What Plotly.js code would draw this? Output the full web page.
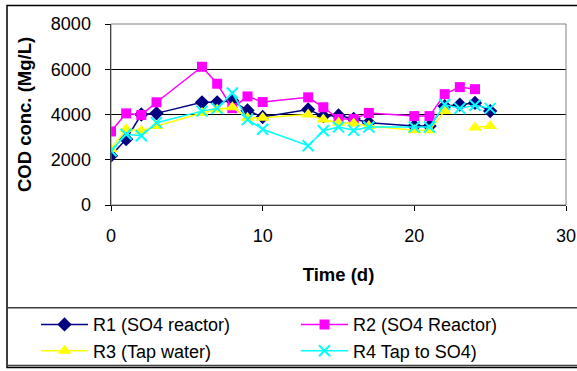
<!DOCTYPE html>
<html><head><meta charset="utf-8">
<script src="https://cdn.plot.ly/plotly-3.0.1.min.js"></script>
<style>html,body{margin:0;padding:0;background:#fff}#chart{width:577px;height:371px}</style>
</head><body><div id="chart"></div>
<script>
const days = [0,1,2,3,6,7,8,9,10,13,14,15,16,17,20,21,22,23,24,25];
const r1 = [2180,2910,4000,4050,4540,4540,4610,4180,3890,4220,3930,3960,3810,3640,3490,3490,4370,4440,4510,4150];
const r2 = [3250,4050,3980,4540,6110,5360,4280,4800,4550,4760,4320,3800,3800,4070,3930,3930,4900,5210,5120,null];
const r3 = [2480,3350,3280,3490,4070,4220,4320,3860,3860,4000,3780,3640,3600,3490,3300,3300,4150,null,3420,3490];
const r4 = [2400,3130,3060,3640,4150,4270,4950,3780,3350,2620,3280,3450,3300,3450,3450,3450,4440,4270,4410,4270];
const names = ['R1 (SO4 reactor)','R2 (SO4 Reactor)','R3 (Tap water)','R4 Tap to SO4)'];
const xTitle = 'Time (d)';
const yTitle = 'COD conc. (Mg/L)';

const L=111, R=566, T=23.5, B=205;
const W=R-L, H=B-T;
const px=v=>(v-L)/W, py=v=>(B-v)/H;

const traces = [
 {x:days,y:r1,name:names[0],mode:'lines+markers',line:{color:'#000080',width:1.5},marker:{symbol:'diamond',size:11,color:'#000080'}},
 {x:days,y:r2,name:names[1],mode:'lines+markers',line:{color:'#FF00FF',width:1.5},marker:{symbol:'square',size:10,color:'#FF00FF'}},
 {x:days,y:r3,name:names[2],mode:'lines+markers',connectgaps:false,line:{color:'#FFFF00',width:1.5},marker:{symbol:'triangle-up',size:12,color:'#FFFF00'}},
 {x:days,y:r4,name:names[3],mode:'lines+markers',line:{color:'#00FFFF',width:1.5},marker:{symbol:'x-thin',size:11,color:'#00FFFF',line:{color:'#00FFFF',width:2}}}
];
const font={family:'"Liberation Sans", Arial, sans-serif',size:18,color:'#000'};
const layout={
 width:577,height:371,
 margin:{l:L,r:577-R,t:T,b:371-B,pad:0,autoexpand:false},
 paper_bgcolor:'#fff',plot_bgcolor:'#fff',
 font:font,
 showlegend:true,
 xaxis:{range:[0,30],dtick:10,tick0:0,ticks:'outside',ticklen:5,tickcolor:'#000',tickwidth:1,
   showgrid:false,zeroline:false,showline:true,linecolor:'#000',linewidth:1,ticklabelstandoff:9,
   title:{text:xTitle,font:{family:font.family,size:18.5,weight:'bold'},standoff:23}},
 yaxis:{range:[0,8000],dtick:2000,tick0:0,ticks:'outside',ticklen:5,tickcolor:'#000',tickwidth:1,
   showgrid:true,gridcolor:'#000',gridwidth:1,zeroline:false,showline:true,linecolor:'#000',linewidth:1.5,ticklabelstandoff:10,
   title:{text:yTitle,font:{family:font.family,size:18.5,weight:'bold'},standoff:14}},
 legend:{orientation:'h',x:px(36),y:py(306.5),xanchor:'left',yanchor:'top',entrywidth:198,entrywidthmode:'pixels',
   font:{family:font.family,size:18,color:'#000'},bgcolor:'rgba(0,0,0,0)',borderwidth:0,itemwidth:47,traceorder:'normal'},
 shapes:[
  {type:'rect',xref:'paper',yref:'paper',x0:0,x1:1,y0:0,y1:1,line:{color:'#808080',width:1},layer:'above'},
  {type:'rect',xref:'paper',yref:'paper',x0:px(7),x1:px(585),y0:py(368),y1:py(5),line:{color:'#000',width:1.5}},
  {type:'rect',xref:'paper',yref:'paper',x0:px(7),x1:px(585),y0:py(366),y1:py(308),line:{color:'#404040',width:1.5}}
 ]
};
Plotly.newPlot('chart',traces,layout,{staticPlot:true,displayModeBar:false});
</script></body></html>
